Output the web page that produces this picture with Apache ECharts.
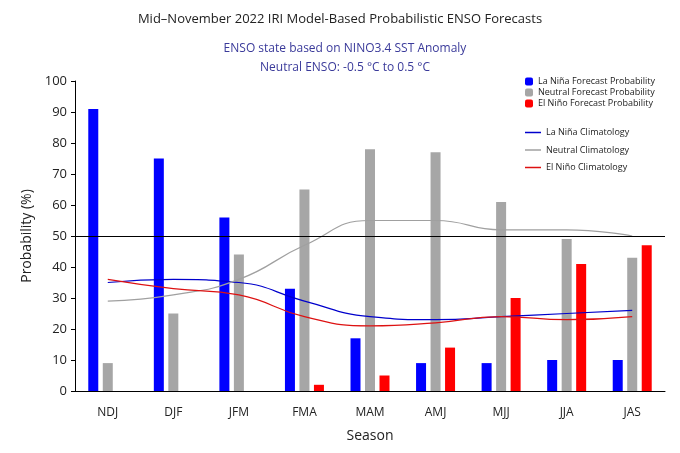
<!DOCTYPE html>
<html><head><meta charset="utf-8">
<script src="https://cdn.jsdelivr.net/npm/echarts@6/dist/echarts.min.js"></script>
<style>html,body{margin:0;padding:0;background:#fff}#c{width:680px;height:453px}</style>
</head><body><div id="c"></div>
<script>
const seasons = ["NDJ", "DJF", "JFM", "FMA", "MAM", "AMJ", "MJJ", "JJA", "JAS"];
const laNinaProb = [91, 75, 56, 33, 17, 9, 9, 10, 10];
const neutralProb = [9, 25, 44, 65, 78, 77, 61, 49, 43];
const elNinoProb = [0, 0, 0, 2, 5, 14, 30, 41, 47];
const laNinaClim = [35, 36, 35, 29, 24, 23, 24, 25, 26];
const neutralClim = [29, 31, 36, 47, 55, 55, 52, 52, 50];
const elNinoClim = [36, 33, 31, 24, 21, 22, 24, 23, 24];

const chart = echarts.init(document.getElementById("c"));
const font = "Open Sans";
const bar = (name, data, color) => ({ name, type: "bar", data, barWidth: 10, barGap: "45%", itemStyle: { color } });
const line = (name, data, color) => ({ name, type: "line", data, smooth: 0.5, symbol: "none", lineStyle: { color, width: 1.2 }, itemStyle: { color } });

chart.setOption({
  textStyle: { fontFamily: font },
  title: [
    { text: "Mid–November 2022 IRI Model-Based Probabilistic ENSO Forecasts", left: "center", top: 8, textStyle: { fontSize: 13, fontWeight: "normal", color: "#222" } },
    { text: "ENSO state based on NINO3.4 SST Anomaly\nNeutral ENSO: -0.5 °C to 0.5 °C", left: 340, textAlign: "center", top: 34, textStyle: { fontSize: 12, fontWeight: "normal", color: "#3a3a9a", lineHeight: 19 } }
  ],
  legend: [
    { data: ["La Niña Forecast Probability", "Neutral Forecast Probability", "El Niño Forecast Probability"], orient: "vertical", left: 520, top: 72, itemWidth: 8, itemHeight: 8, itemGap: 2, textStyle: { fontSize: 9, color: "#222" } },
    { data: [
        { name: "La Niña Climatology", itemStyle: { color: "#0000cc" } },
        { name: "Neutral Climatology", itemStyle: { color: "#a0a0a0" } },
        { name: "El Niño Climatology", itemStyle: { color: "#dd1111" } }
      ], orient: "vertical", left: 520, top: 123, itemWidth: 16, itemHeight: 1.5, itemGap: 8.5, icon: "rect", textStyle: { fontSize: 9, color: "#222" } }
  ],
  grid: { left: 75, right: 15, top: 81, bottom: 62 },
  xAxis: {
    type: "category", data: seasons, name: "Season", nameLocation: "middle", nameGap: 38,
    nameTextStyle: { fontSize: 14, color: "#222" },
    axisTick: { show: false }, axisLine: { lineStyle: { color: "#000" } },
    axisLabel: { fontSize: 12, color: "#222", margin: 16 }
  },
  yAxis: {
    type: "value", min: 0, max: 100, interval: 10, name: "Probability (%)", nameLocation: "middle", nameGap: 40,
    nameTextStyle: { fontSize: 14, color: "#222" },
    axisLine: { show: true, lineStyle: { color: "#000" } }, axisTick: { show: true, length: 4 },
    splitLine: { show: false }, axisLabel: { fontSize: 13, color: "#222" }
  },
  series: [
    bar("La Niña Forecast Probability", laNinaProb, "#0000ff"),
    Object.assign(bar("Neutral Forecast Probability", neutralProb, "#a6a6a6"), {
      markLine: { silent: true, symbol: "none", label: { show: false }, lineStyle: { color: "#000", type: "solid", width: 1.2 }, data: [{ yAxis: 50 }] }
    }),
    bar("El Niño Forecast Probability", elNinoProb, "#ff0000"),
    line("La Niña Climatology", laNinaClim, "#0000cc"),
    line("Neutral Climatology", neutralClim, "#a0a0a0"),
    line("El Niño Climatology", elNinoClim, "#dd1111")
  ]
});
</script></body></html>
